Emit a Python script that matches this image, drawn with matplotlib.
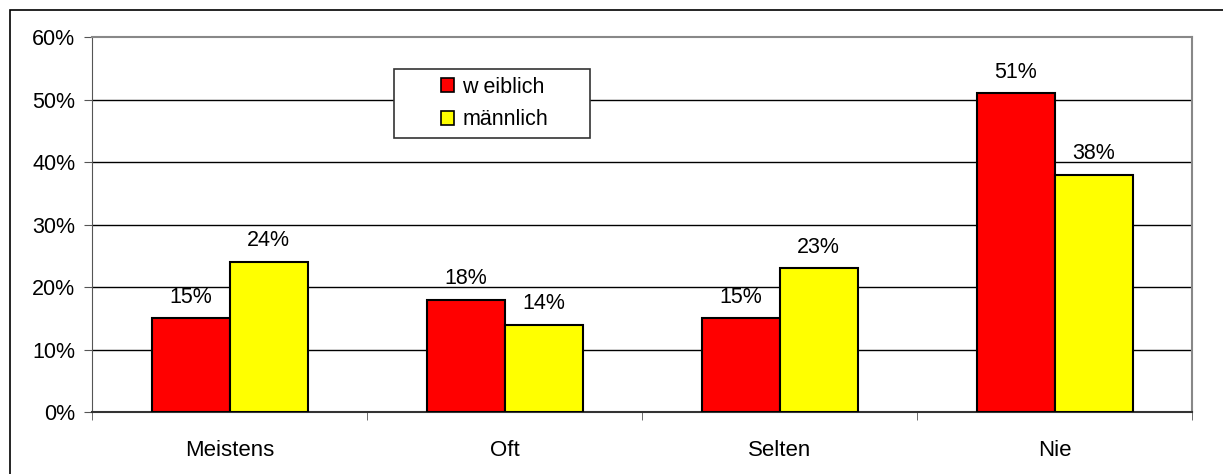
import matplotlib.pyplot as plt
import matplotlib.patches as mpatches
import numpy as np

plt.rcParams['font.family'] = ['Liberation Sans', 'DejaVu Sans']

categories = ['Meistens', 'Oft', 'Selten', 'Nie']
weiblich = [15, 18, 15, 51]
maennlich = [24, 14, 23, 38]
series_names = ['w eiblich', 'männlich']
colors = ['#FF0000', '#FFFF00']
yticks = [0, 10, 20, 30, 40, 50, 60]

W, H = 1223, 474
fig = plt.figure(figsize=(W / 100, H / 100), dpi=100)

# outer chart frame (only top/left visible in the picture)
fig.patches.append(mpatches.Rectangle((10 / W, -0.1), 1.2, 1 - 10 / H + 0.1,
                                      transform=fig.transFigure, fill=False,
                                      edgecolor='black', linewidth=1.2))

ax = fig.add_axes([92 / W, 1 - 412 / H, (1192 - 92) / W, (412 - 37) / H])

x = np.arange(len(categories))
bw = 78 / 275
ax.bar(x - bw / 2, weiblich, bw, color=colors[0], edgecolor='black', linewidth=1.5, zorder=3)
ax.bar(x + bw / 2, maennlich, bw, color=colors[1], edgecolor='black', linewidth=1.5, zorder=3)

fs = 15.5
for i in range(len(categories)):
    ax.text(x[i] - bw / 2, weiblich[i] + 1.7, f'{weiblich[i]}%', ha='center', va='bottom', fontsize=fs)
    ax.text(x[i] + bw / 2, maennlich[i] + 1.7, f'{maennlich[i]}%', ha='center', va='bottom', fontsize=fs)

ax.set_xlim(-0.5, len(categories) - 0.5)
ax.set_ylim(0, 60)
ax.set_yticks(yticks)
ax.set_yticklabels([f'{v}%' for v in yticks], fontsize=fs)
ax.set_xticks(x)
ax.set_xticklabels(categories, fontsize=16)
ax.set_xticks(np.arange(len(categories) + 1) - 0.5, minor=True)
ax.tick_params(axis='x', which='major', length=0, pad=20)
ax.tick_params(axis='x', which='minor', length=6, color='#555555', direction='out')
ax.tick_params(axis='y', length=6, color='#555555', pad=6)

for y in yticks[1:-1]:
    ax.axhline(y, color='black', linewidth=1, zorder=1)

for side in ['top', 'right']:
    ax.spines[side].set_color('#888888')
    ax.spines[side].set_linewidth(1.5)
ax.spines['left'].set_color('#555555')
ax.spines['bottom'].set_color('#333333')
ax.spines['bottom'].set_linewidth(1.5)

# legend box drawn separately, entries centred in it
lx0, lx1, ly0, ly1 = 394, 590, 69, 138
box = mpatches.Rectangle((lx0 / W, 1 - ly1 / H), (lx1 - lx0) / W, (ly1 - ly0) / H,
                         transform=fig.transFigure, facecolor='white',
                         edgecolor='#333333', linewidth=1.2, zorder=4)
fig.patches.append(box)

handles = [mpatches.Patch(facecolor=c, edgecolor='black', linewidth=1.2) for c in colors]
leg = fig.legend(handles, series_names, loc='center',
                 bbox_to_anchor=((lx0 + lx1) / 2 / W + 0.002, 1 - (ly0 + ly1) / 2 / H),
                 fontsize=fs, frameon=False, handlelength=0.6,
                 handleheight=0.6, handletextpad=0.4, borderpad=0, labelspacing=0.55,
                 borderaxespad=0)
leg.set_zorder(5)

fig.savefig('out.png', dpi=100)
